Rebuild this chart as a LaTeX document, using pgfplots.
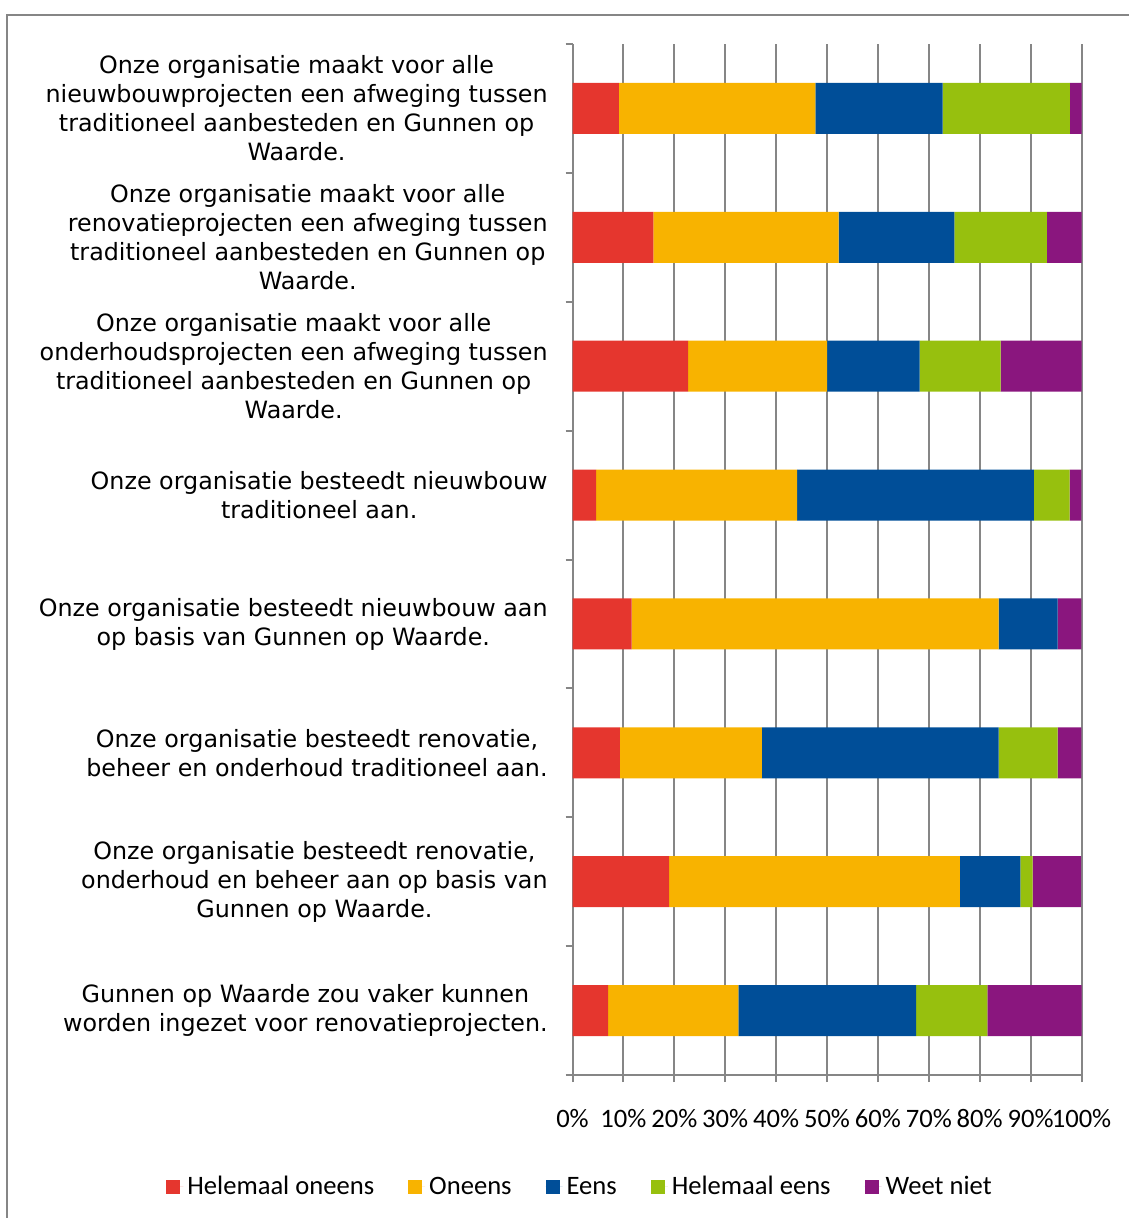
\documentclass[border=0pt]{standalone}
\usepackage{fontspec}
\usepackage{pgfplots}
\pgfplotsset{compat=1.18}
\newfontfamily\verd{DejaVu Sans}
\newfontfamily\carl{Carlito}
\definecolor{cHO}{RGB}{229,54,46}
\definecolor{cO}{RGB}{248,179,0}
\definecolor{cE}{RGB}{0,78,152}
\definecolor{cHE}{RGB}{151,192,14}
\definecolor{cWN}{RGB}{138,22,126}
\definecolor{gridgray}{RGB}{134,134,134}
\pgfplotsset{sqleg/.style={legend image code/.code={\fill[##1] (0pt,-3.5pt) rectangle (7pt,3.5pt); \path (0pt,0pt) -- (8.5pt,0pt);}}}
\begin{document}
\begin{tikzpicture}
\useasboundingbox (0,0) rectangle (564.5pt,-609pt);
\draw[color=gridgray, line width=0.8pt] (3.5pt,-609pt) -- (3.5pt,-7.5pt) -- (564.5pt,-7.5pt);
\begin{axis}[
  at={(286.25pt,-537.5pt)}, anchor=south west,
  scale only axis, width=254.5pt, height=515.5pt,
  xbar stacked, bar width=25.5pt,
  xmin=0, xmax=100, ymin=-0.5, ymax=7.5,
  axis x line*=bottom, axis y line*=left,
  axis line style={-, color=gridgray, line width=1pt},
  xtick={0,10,...,100},
  xticklabels={0\%,10\%,20\%,30\%,40\%,50\%,60\%,70\%,80\%,90\%,100\%},
  xticklabel style={font=\fontsize{13.3}{15}\carl, anchor=center, inner sep=0pt, yshift=-18.5pt},
  xmajorgrids, major grid style={color=gridgray, line width=1pt},
  tick style={color=gridgray, line width=1pt},
  tick align=outside, major tick length=3.5pt,
  ytick={-0.5,0.5,...,7.5}, yticklabels={},
  extra y ticks={0,1,2,3,4,5,6,7},
  extra y tick style={major tick length=0pt, yticklabel style={font=\fontsize{11.9}{14.5}\verd, align=center, anchor=east, inner sep=0pt, xshift=-12.25pt}},
  extra y tick labels={
    {Gunnen op Waarde zou vaker kunnen\\worden ingezet voor renovatieprojecten.},
    {Onze organisatie besteedt renovatie,\\onderhoud en beheer aan op basis van\\Gunnen op Waarde.},
    {Onze organisatie besteedt renovatie,\\beheer en onderhoud traditioneel aan.},
    {Onze organisatie besteedt nieuwbouw aan\\op basis van Gunnen op Waarde.},
    {Onze organisatie besteedt nieuwbouw\\traditioneel aan.},
    {Onze organisatie maakt voor alle\\onderhoudsprojecten een afweging tussen\\traditioneel aanbesteden en Gunnen op\\Waarde.},
    {Onze organisatie maakt voor alle\\renovatieprojecten een afweging tussen\\traditioneel aanbesteden en Gunnen op\\Waarde.},
    {Onze organisatie maakt voor alle\\nieuwbouwprojecten een afweging tussen\\traditioneel aanbesteden en Gunnen op\\Waarde.}},
  legend columns=5,
  legend style={at={(0.0167,-0.1086)}, anchor=center, draw=none, fill=none,
    font=\fontsize{13.3}{15}\carl, inner sep=0pt,
    /tikz/every even column/.append style={column sep=15pt}},
]
\addplot[fill=cHO, draw=none, sqleg] coordinates {(7.0,0) (19.0,1) (9.3,2) (11.6,3) (4.65,4) (22.7,5) (15.9,6) (9.1,7)};
\addplot[fill=cO, draw=none, sqleg] coordinates {(25.6,0) (57.1,1) (27.9,2) (72.1,3) (39.5,4) (27.3,5) (36.4,6) (38.6,7)};
\addplot[fill=cE, draw=none, sqleg] coordinates {(34.9,0) (11.9,1) (46.5,2) (11.6,3) (46.5,4) (18.2,5) (22.7,6) (25.0,7)};
\addplot[fill=cHE, draw=none, sqleg] coordinates {(14.0,0) (2.4,1) (11.6,2) (0,3) (7.0,4) (15.9,5) (18.2,6) (25.0,7)};
\addplot[fill=cWN, draw=none, sqleg] coordinates {(18.6,0) (9.5,1) (4.65,2) (4.65,3) (2.3,4) (15.9,5) (6.8,6) (2.3,7)};
\legend{Helemaal oneens, Oneens, Eens, Helemaal eens, Weet niet}
\end{axis}
\end{tikzpicture}
\end{document}
